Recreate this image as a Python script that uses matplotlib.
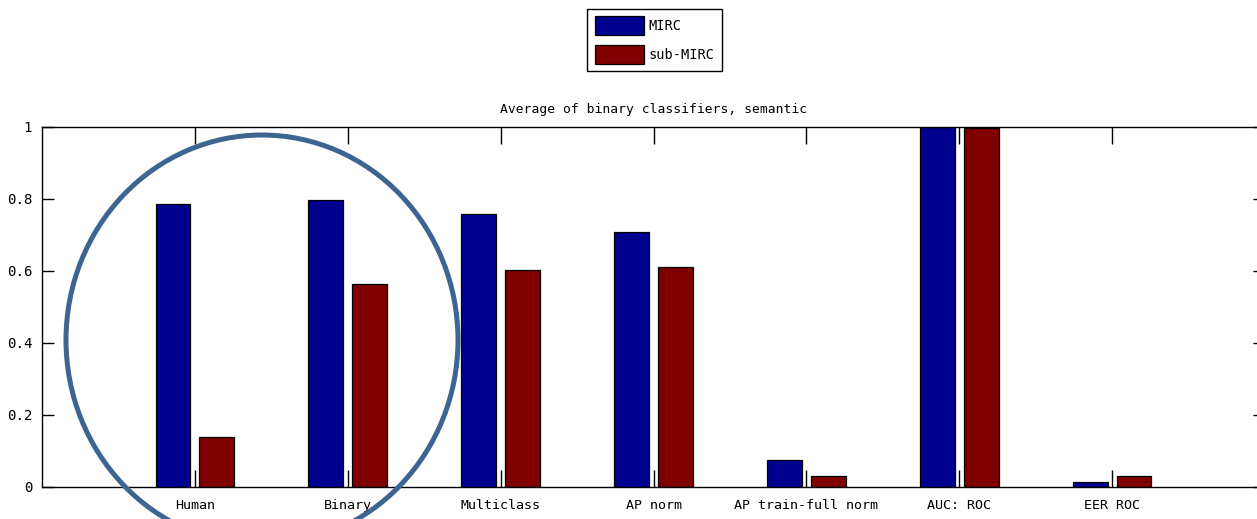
import numpy as np
import matplotlib.pyplot as plt
from matplotlib.patches import Ellipse

plt.rcParams['font.family'] = 'DejaVu Sans Mono'

categories = ['Human', 'Binary', 'Multiclass', 'AP norm', 'AP train-full norm', 'AUC: ROC', 'EER ROC']
mirc = [0.786, 0.797, 0.758, 0.708, 0.075, 1.0, 0.014]
sub_mirc = [0.139, 0.564, 0.603, 0.611, 0.031, 0.997, 0.030]
yticks = [0, 0.2, 0.4, 0.6, 0.8, 1]
ytick_labels = ['0', '0.2', '0.4', '0.6', '0.8', '1']

W, H = 1257, 519
fig = plt.figure(figsize=(W / 100, H / 100), dpi=100)
ax = fig.add_axes([42 / W, 32 / H, 1223 / W, 360 / H])

x = np.arange(1, len(categories) + 1)
b1 = ax.bar(x - 0.143, mirc, width=0.228, color='#00008f', edgecolor='black', linewidth=0.9, label='MIRC')
b2 = ax.bar(x + 0.143, sub_mirc, width=0.228, color='#7f0000', edgecolor='black', linewidth=0.9, label='sub-MIRC')

ax.set_xlim(0, 8)
ax.set_ylim(0, 1)
ax.set_xticks(x)
ax.set_xticklabels(categories, fontsize=9.6)
ax.set_yticks(yticks)
ax.set_yticklabels(ytick_labels, fontsize=10.2)
ax.tick_params(axis='x', direction='in', length=12.5, top=True, pad=8.5, width=1)
ax.tick_params(axis='y', direction='in', length=8.5, right=True, pad=7, width=1)
for s in ax.spines.values():
    s.set_linewidth(1)
ax.set_title('Average of binary classifiers, semantic', fontsize=9.4, pad=10)

leg = fig.legend(handles=[b1, b2], loc='center', bbox_to_anchor=(654.5 / W, 1 - 40 / H),
                 fontsize=9.8, handlelength=3.6, handleheight=1.75, handletextpad=0.35,
                 labelspacing=0.75, borderpad=0.55, borderaxespad=0, fancybox=False,
                 framealpha=1, edgecolor='black')
leg.get_frame().set_linewidth(1)

# highlight ring around the first two groups
ring = Ellipse((262 / W, 1 - 340 / H), 392 / W, 410 / H, transform=fig.transFigure,
               fill=False, edgecolor='#3d6592', linewidth=3.6, zorder=5, clip_on=False)
fig.add_artist(ring)

fig.savefig('out.png', dpi=100)
